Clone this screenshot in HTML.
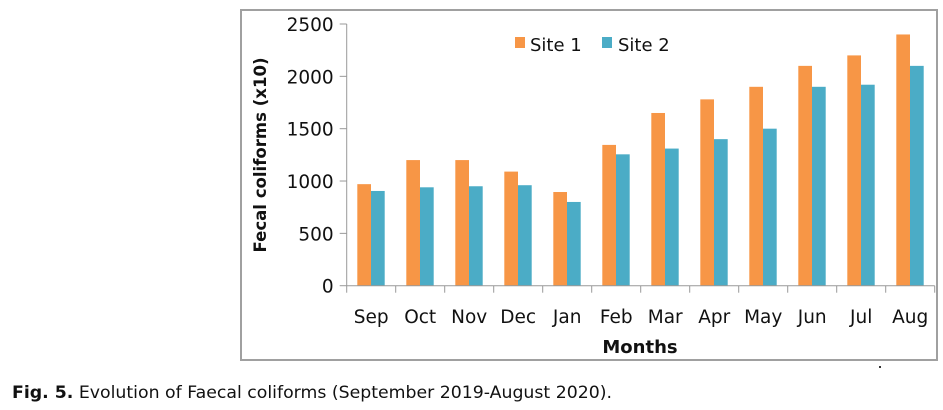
<!DOCTYPE html>
<html><head><meta charset="utf-8"><style>
body{margin:0;background:#fff;width:943px;height:405px;overflow:hidden}
text{font-family:"DejaVu Sans","Liberation Sans",sans-serif}
</style></head><body>
<svg id="chart" width="943" height="405" viewBox="0 0 943 405" xmlns="http://www.w3.org/2000/svg">
<rect x="241" y="10" width="696" height="350" fill="#fff" stroke="#a0a0a0" stroke-width="2"/>
<g id="bars"></g>
<g id="axes"></g>
<text transform="translate(266,155) rotate(-90)" text-anchor="middle" font-size="17" font-weight="bold" fill="#111" textLength="195" lengthAdjust="spacingAndGlyphs">Fecal coliforms (x10)</text>
<text x="640" y="353" text-anchor="middle" font-size="18" font-weight="bold" fill="#111">Months</text>
<g>
<rect x="515" y="37" width="10" height="11" fill="#f79646"/>
<text x="530" y="51" font-size="18" fill="#111">Site 1</text>
<rect x="602" y="37" width="10" height="11" fill="#4bacc6"/>
<text x="618" y="51" font-size="18" fill="#111">Site 2</text>
</g>
<rect x="879" y="366" width="2" height="2" fill="#333"/>
<text x="12" y="398" font-size="17" fill="#111" textLength="600" lengthAdjust="spacingAndGlyphs"><tspan font-weight="bold">Fig. 5.</tspan> Evolution of Faecal coliforms (September 2019-August 2020).</text>
</svg>
<script>
const categories=["Sep","Oct","Nov","Dec","Jan","Feb","Mar","Apr","May","Jun","Jul","Aug"];
const site1=[970,1200,1200,1090,895,1345,1650,1780,1900,2100,2200,2400];
const site2=[905,940,950,960,800,1255,1310,1400,1500,1900,1920,2100];
const yTicks=[0,500,1000,1500,2000,2500];
const NS="http://www.w3.org/2000/svg";
const x0=346.7,band=49,y0=285.7,yTop=24,yMax=2500;
function xBand(i){return x0+i*band;}
function yScale(v){return y0-(v/yMax)*(y0-yTop);}
function mk(tag,attrs,parent){const e=document.createElementNS(NS,tag);for(const k in attrs)e.setAttribute(k,attrs[k]);parent.appendChild(e);return e;}
const bars=document.getElementById('bars'),axes=document.getElementById('axes');
const bw=13.7,off=10.6;
categories.forEach((c,i)=>{
  const x=xBand(i)+off;
  const r1=mk('rect',{x:x,y:yScale(site1[i]),width:bw,height:y0-yScale(site1[i]),fill:'#f79646'},bars);
  
  
  const r2=mk('rect',{x:x+bw,y:yScale(site2[i]),width:bw,height:y0-yScale(site2[i]),fill:'#4bacc6'},bars);
  
  
  const t=mk('text',{x:xBand(i)+band/2,y:323,'text-anchor':'middle','font-size':'18.5',fill:'#111'},axes);
  t.textContent=c;
  
  
});
for(let i=0;i<=categories.length;i++){
  const tk=mk('line',{x1:xBand(i),x2:xBand(i),y1:y0,y2:y0+7,stroke:'#999','stroke-width':1},axes);
  
  
}
yTicks.forEach(v=>{
  const y=yScale(v);
  const tk=mk('line',{x1:x0-7,x2:x0,y1:y,y2:y,stroke:'#999','stroke-width':1},axes);
  
  
  const t=mk('text',{x:x0-13,y:y+7,'text-anchor':'end','font-size':'18.5',fill:'#111'},axes);
  t.textContent=v;
  
  
});
const ya=mk('line',{x1:x0,x2:x0,y1:yTop,y2:y0,stroke:'#999','stroke-width':1},axes);


const xa=mk('line',{x1:x0,x2:xBand(categories.length),y1:y0,y2:y0,stroke:'#999','stroke-width':1},axes);


</script>
</body></html>
